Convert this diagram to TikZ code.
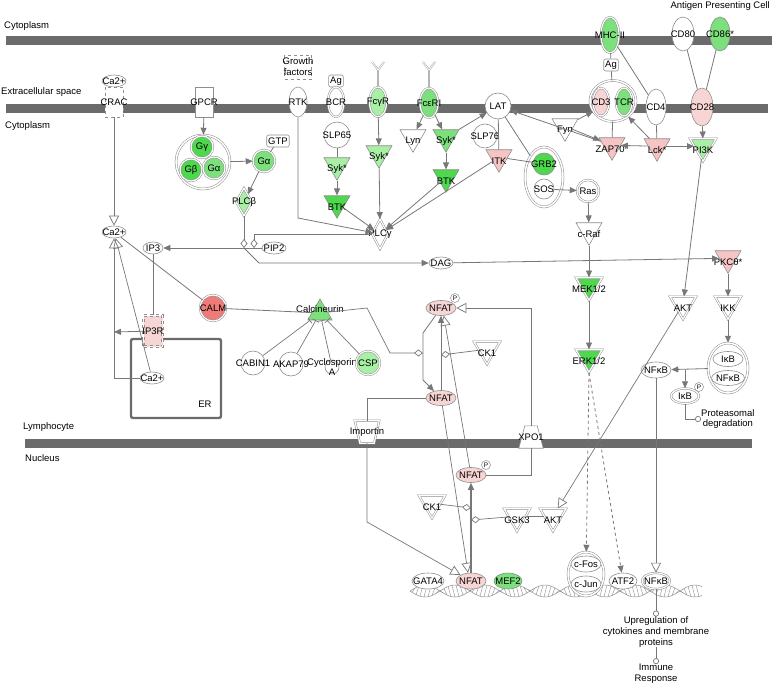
\documentclass[tikz,border=0pt]{standalone}
\usepackage{fontspec}
\setmainfont{Liberation Sans}
\usetikzlibrary{arrows.meta,shapes.geometric,calc,positioning}
\definecolor{MemGray}{HTML}{6B6B6B}
\definecolor{EdgeGray}{HTML}{777777}
\definecolor{RimGray}{HTML}{8E8E8E}
\definecolor{GreenHi}{HTML}{4ED84E}
\definecolor{GreenMid}{HTML}{7CE07C}
\definecolor{GreenLo}{HTML}{A9EFA6}
\definecolor{PinkLo}{HTML}{F8D5D5}
\definecolor{PinkMid}{HTML}{F6C4C4}
\definecolor{RedCalm}{HTML}{EE7B78}
\newcommand{\ipafont}{\fontsize{9.5}{10.8}\selectfont}

\begin{document}
\begin{tikzpicture}[x=1pt,y=-1pt,
    lab/.style={font=\ipafont,inner sep=0pt,align=center},
    mol/.style={ellipse,draw=RimGray,fill=white,line width=0.6pt,minimum width=30pt,
      minimum height=15pt,inner sep=0pt,label={[lab]center:#1}},
    ball/.style={circle,draw=RimGray,fill=white,line width=0.6pt,minimum size=24pt,
      inner sep=0pt,label={[lab]center:#1}},
    chem/.style={ellipse,draw=RimGray,fill=white,line width=0.6pt,minimum width=24pt,
      minimum height=12pt,inner sep=0pt,label={[lab]center:#1}},
    kin/.style={regular polygon,regular polygon sides=3,shape border rotate=180,
      minimum size=30pt,draw=RimGray,fill=white,line width=0.6pt,inner sep=0pt,
      yshift=3.75pt,label={[lab,yshift=-3.75pt]center:#1}},
    chan/.style={rectangle,draw=RimGray,fill=white,line width=0.6pt,minimum width=18pt,
      minimum height=30pt,inner sep=0pt,label={[lab]center:#1}},
    plc/.style={diamond,draw=RimGray,fill=white,double=white,double distance=1.2pt,
      line width=0.5pt,minimum width=16pt,minimum height=30pt,inner sep=0pt,
      label={[lab]center:#1}},
    gate/.style={rectangle,minimum width=24pt,minimum height=22pt,inner sep=0pt},
    gateline/.style={draw=RimGray,fill=white,line width=0.6pt},
    tag/.style={rectangle,rounded corners=2pt,draw=RimGray,fill=white,line width=0.6pt,
      minimum height=12pt,inner sep=1.5pt,font=\ipafont},
    cpx/.style={ellipse,draw=RimGray,fill=white,double=white,double distance=1.5pt,
      line width=0.5pt,inner sep=0pt},
    grp/.style={double=white,double distance=1.2pt,line width=0.5pt},
    phos/.style={circle,draw=RimGray,fill=white,line width=0.5pt,minimum size=9pt,
      inner sep=0pt,font=\fontsize{6.5}{7}\selectfont},
    link/.style={draw=EdgeGray,line width=0.8pt},
    act/.style={link,-{Triangle[length=7pt,width=6pt]}},
    indir/.style={act,dashed},
    trans/.style={draw=EdgeGray,line width=0.7pt,-{Triangle[open,length=10pt,width=10pt]}},
    cat/.style={draw=EdgeGray,line width=0.7pt,-{Diamond[open,length=9pt,width=7pt]}},
    inh/.style={draw=EdgeGray,line width=0.7pt,-{Bar[width=7pt]}},
    endo/.style={draw=EdgeGray,line width=0.7pt,-{Circle[open,length=6pt]}}
  ]
  \useasboundingbox (0,0) rectangle (778,687);

  \fill[MemGray] (6,36) rectangle (772,45);
  \fill[MemGray] (6,104) rectangle (768,113);
  \fill[MemGray] (25,439) rectangle (752,448);

  \node[lab,anchor=west] (cyto1) at (4,26) {Cytoplasm};
  \node[lab,anchor=east] (apc) at (770,6) {Antigen Presenting Cell};
  \node[lab,anchor=west] (extra) at (1,92) {Extracellular space};
  \node[lab,anchor=west] (cyto2) at (5,126) {Cytoplasm};
  \node[lab,anchor=west] (lympho) at (23,427) {Lymphocyte};
  \node[lab,anchor=west] (nucl) at (25,458) {Nucleus};

  \draw[MemGray,line width=2.4pt,rounded corners=2pt] (131,339) rectangle (221,418);
  \node[lab] (er) at (205,404) {ER};

  \draw[RimGray,line width=0.5pt,domain=410:702,samples=150]
    plot (\x,{591+6*sin((\x-410)*6)});
  \draw[RimGray,line width=0.5pt,domain=410:702,samples=150]
    plot (\x,{591-6*sin((\x-410)*6)});
  \foreach \x in {412,416,...,698}
    \draw[RimGray,line width=0.4pt] (\x,{591+6*sin((\x-410)*6)})
      -- ({\x+3},{591-6*sin((\x-407)*6)});

  \foreach \xx/\rc in {378/fcgr,429/fcer}{
    \draw[RimGray,line width=0.4pt,double=white,double distance=0.9pt]
      (\xx,87) -- (\xx,70) -- (\xx-6,62) (\xx,70) -- (\xx+6,62);
  }

  % membrane and receptors
  \node[chem=Ca2+] (ca0) at (114,81) {};
  \node[chan=CRAC,dashed] (crac) at (114,102) {};
  \node[chan=GPCR] (gpcr) at (204,102) {};
  \node[chan=Growth\\factors,dashed,minimum width=27pt,minimum height=24pt] (gf) at (298,67) {};
  \node[mol=RTK,minimum width=18pt,minimum height=30pt] (rtk) at (298,102) {};
  \node[tag] (ag1) at (336,81) {Ag};
  \node[mol=BCR,grp,minimum width=16pt,minimum height=30pt] (bcr) at (336,102) {};
  \node[mol=FcγR,grp,fill=GreenLo,minimum width=17pt,minimum height=30pt] (fcgr) at (378,102) {};
  \node[mol=FcεRI,grp,fill=GreenMid,minimum width=18pt,minimum height=30pt] (fcer) at (429,103) {};
  \node[ball=LAT,minimum size=26pt] (lat) at (498,106) {};
  \node[cpx,minimum width=46pt,minimum height=41pt] (tcrcx) at (613,101) {};
  \node[mol=CD3,grp,fill=PinkLo,minimum width=16pt,minimum height=28pt] (cd3) at (601,102) {};
  \node[mol=TCR,grp,fill=GreenMid,minimum width=16pt,minimum height=28pt] (tcr) at (624,102) {};
  \node[mol=MHC-II,grp,fill=GreenMid,minimum width=18pt,minimum height=36pt] (mhc) at (610,35) {};
  \node[tag] (ag2) at (611,65) {Ag};
  \node[mol=CD80,minimum width=22pt,minimum height=34pt] (cd80) at (683,34) {};
  \node[mol=CD86*,fill=GreenMid,minimum width=20pt,minimum height=34pt] (cd86) at (720,34) {};
  \node[mol=CD4,minimum width=20pt,minimum height=36pt] (cd4) at (656,107) {};
  \node[mol=CD28,fill=PinkLo,minimum width=22pt,minimum height=38pt] (cd28) at (702,107) {};

  % cytoplasm
  \node[ball=SLP65,minimum size=26pt] (slp65) at (337,135) {};
  \node[kin=Syk*,fill=GreenLo] (syk1) at (337,169) {};
  \node[kin=BTK,fill=GreenHi] (btk1) at (337,207) {};
  \node[kin=Syk*,fill=GreenLo] (syk2) at (379,157) {};
  \node[plc=PLCγ] (plcg) at (380,234) {};
  \node[kin=Lyn] (lyn) at (413,141) {};
  \node[kin=Syk*,fill=GreenMid] (syk3) at (446,141) {};
  \node[kin=BTK,fill=GreenHi] (btk2) at (446,181) {};
  \node[ball=SLP76] (slp76) at (485,136) {};
  \node[kin=ITK,fill=PinkMid] (itk) at (499,161) {};
  \node[cpx,minimum width=38pt,minimum height=60pt] (grbcx) at (544,177) {};
  \node[ball=GRB2,fill=GreenHi,minimum size=22pt] (grb2) at (544,164) {};
  \node[ball=SOS,minimum size=20pt] (sos) at (544,189) {};
  \node[ball=Ras,grp,minimum size=22pt] (ras) at (588,191) {};
  \node[kin=c-Raf] (craf) at (589,234) {};
  \node[kin=MEK1/2,grp,fill=GreenHi] (mek) at (589,289) {};
  \node[kin=ERK1/2,grp,fill=GreenHi] (erk) at (589,361) {};
  \node[kin=Fyn] (fyn) at (565,130) {};
  \node[kin=ZAP70*,fill=PinkMid] (zap70) at (612,149) {};
  \node[kin=Lck*,fill=PinkMid] (lck) at (657,150) {};
  \node[kin=PI3K,grp,fill=GreenLo] (pi3k) at (703,150) {};
  \node[kin=PKCθ*,fill=PinkMid] (pkc) at (728,262) {};
  \node[kin=AKT,grp] (akt1) at (683,308) {};
  \node[kin=IKK,grp] (ikk) at (728,308) {};
  \node[cpx,minimum width=40pt,minimum height=50pt] (ikbcx) at (728,368) {};
  \node[mol=IκB] (ikb1) at (728,359) {};
  \node[mol=NFκB,minimum width=33pt] (nfkb1) at (728,378) {};
  \node[mol=NFκB,minimum height=16pt] (nfkb2) at (656,370) {};
  \node[mol=IκB,grp,minimum width=28pt] (ikb2) at (685,396) {};
  \node[phos] (p1) at (699,387) {P};
  \node[lab,anchor=west] (prot) at (701,419) {Proteasomal\\degradation};

  \node[chem=Ca2+] (ca1) at (114,232) {};
  \node[chem=IP3,minimum width=20pt] (ip3) at (153,248) {};
  \node[chem=PIP2] (pip2) at (274,248) {};
  \node[chem=DAG] (dag) at (441,263) {};
  \node[cpx,minimum width=54pt,minimum height=54pt] (gcx) at (203,162) {};
  \node[ball=Gγ,grp,fill=GreenHi,minimum size=22pt] (gg) at (202,147) {};
  \node[ball=Gβ,grp,fill=GreenHi,minimum size=22pt] (gb) at (191,170) {};
  \node[ball=Gα,grp,fill=GreenMid,minimum size=22pt] (ga1) at (214,168) {};
  \node[ball=Gα,grp,fill=GreenMid,minimum size=22pt] (ga2) at (264,161) {};
  \node[tag] (gtp) at (278,141) {GTP};
  \node[plc=PLCβ,fill=GreenLo,minimum height=28pt] (plcb) at (244,202) {};
  \node[ball=CALM,grp,fill=RedCalm,minimum size=26pt] (calm) at (213,308) {};
  \node[regular polygon,regular polygon sides=3,minimum size=28pt,draw=RimGray,
    fill=GreenMid,line width=0.6pt,inner sep=0pt,
    label={[lab,yshift=4pt]center:Calcineurin}] (calc) at (320,313) {};
  \node[ball=CABIN1] (cabin) at (253,363) {};
  \node[ball=AKAP79] (akap) at (291,364) {};
  \node[ball=Cyclosporin\\A,minimum size=14pt] (cyc) at (332,367) {};
  \node[ball=CSP,grp,fill=GreenLo] (csp) at (368,363) {};
  \node[chan=IP3R,dashed,grp,fill=PinkLo,minimum width=19pt,minimum height=31pt] (ip3r) at (153,331) {};
  \node[chem=Ca2+] (ca2) at (152,378) {};

  \node[mol=NFAT,fill=PinkLo] (nfatp1) at (441,308) {};
  \node[phos] (p2) at (455,298) {P};
  \node[mol=NFAT,fill=PinkLo] (nfat2) at (441,398) {};
  \node[kin=CK1,grp] (ck1a) at (487,353) {};

  % nuclear envelope and nucleus
  \node[gate] (imp) at (367,432) {};
  \filldraw[gateline,grp] (imp.north west) -- (imp.north east)
    -- ([xshift=-5pt]imp.south east) -- ([xshift=5pt]imp.south west) -- cycle;
  \node[lab] (implab) at (imp) {Importin};
  \node[gate] (xpo) at (531,437) {};
  \filldraw[gateline] (xpo.south west) -- (xpo.south east)
    -- ([xshift=-6pt]xpo.north east) -- ([xshift=6pt]xpo.north west) -- cycle;
  \node[lab] (xpolab) at (xpo) {XPO1};
  \node[mol=NFAT,fill=PinkLo] (nfatp2) at (471,475) {};
  \node[phos] (p3) at (486,465) {P};
  \node[kin=CK1,grp] (ck1b) at (432,507) {};
  \node[kin=GSK3,grp] (gsk) at (517,520) {};
  \node[kin=AKT,grp] (akt2) at (553,520) {};
  \node[mol=GATA4,minimum width=32pt,minimum height=16pt] (gata) at (428,581) {};
  \node[mol=NFAT,fill=PinkLo,minimum height=16pt] (nfat3) at (471,581) {};
  \node[mol=MEF2,fill=GreenMid,minimum width=28pt,minimum height=16pt] (mef) at (508,581) {};
  \node[cpx,minimum width=36pt,minimum height=44pt] (fjcx) at (586,574) {};
  \node[mol=c-Fos,minimum height=16pt] (fos) at (586,564) {};
  \node[mol=c-Jun,minimum height=16pt] (jun) at (586,584) {};
  \node[mol=ATF2,minimum width=28pt,minimum height=16pt] (atf) at (623,581) {};
  \node[mol=NFκB,grp,minimum width=28pt,minimum height=16pt] (nfkb3) at (656,581) {};
  \node[lab] (upreg) at (656,632) {Upregulation of\\cytokines and membrane\\proteins};
  \node[lab] (immune) at (656,674) {Immune\\Response};

  \coordinate (cajn) at (114,378);
  \coordinate (ip3rj) at (114,332);
  \coordinate (rx1) at (244,248);
  \coordinate (rx2) at (254,248);
  \coordinate (rx3) at (259,263);
  \coordinate (rtkb) at (298,218);
  \coordinate (ikbj) at (685,370);
  \coordinate (ck1j) at (471,508);
  \coordinate (gskj) at (471,520);
  \coordinate (nl1) at (423,333);
  \coordinate (nl2) at (423,380);
  \coordinate (cnj) at (423,353);
  \coordinate (cn1) at (367,308);
  \coordinate (cn2) at (390,353);
  \coordinate (ck1aj) at (441,355);
  \coordinate (impj) at (367,522);

  \draw[link] (ca0) -- (crac);
  \draw[trans] (crac) -- (ca1);
  \draw[trans] (ca2) -- (cajn) -- (ca1);
  \draw[trans] (ca2) -- (ca1);
  \draw[act] (ip3r) -- (ip3rj);
  \draw[link] (ca1) -- (calm);
  \draw[link] (ip3) -- (ip3r);
  \draw[act] (pip2) -- (ip3);
  \draw[cat] (plcb) -- (rx1);
  \draw[cat] (plcg.west) -| (rx2);
  \draw[act] (rx1) -- (rx3) -- (dag);
  \draw[act] (dag) -- (pkc);
  \draw[act] (gpcr) -- (gcx);
  \draw[act] (gcx) -- (ga2);
  \draw[link] (gtp) -- (ga2);
  \draw[act] (ga2) -- (plcb);
  \draw[act] (rtk) -- (rtkb) -- (plcg);
  \draw[link] (slp65) -- (syk1);
  \draw[act] (syk1) -- (btk1);
  \draw[act] (btk1) -- (plcg);
  \draw[act] (fcgr) -- (syk2);
  \draw[act] (syk2) -- (plcg);
  \draw[act] (fcer) -- (lyn);
  \draw[act] (fcer) -- (syk3);
  \draw[act] (syk3) -- (btk2);
  \draw[act] (syk3) -- (lat);
  \draw[act] (btk2) -- (plcg);
  \draw[act] (itk) -- (plcg);
  \draw[link] (lat) -- (itk);
  \draw[link] (lat) -- (grbcx);
  \draw[link] (itk) -- (grb2);
  \draw[act] (sos) -- (ras);
  \draw[act] (ras) -- (craf);
  \draw[act] (craf) -- (mek);
  \draw[act] (mek) -- (erk);
  \draw[indir] (erk.south) -- (fjcx);
  \draw[indir] (erk.south) -- (atf);
  \draw[act] (zap70) -- (lat);
  \draw[act] (fyn) -- (zap70);
  \draw[act] (fyn) -- (tcrcx);
  \draw[link] (tcrcx) -- (zap70);
  \draw[link] (mhc) -- (ag2);
  \draw[link] (ag2) -- (tcrcx);
  \draw[link] (mhc) -- (cd4);
  \draw[link] (cd80) -- (cd28);
  \draw[link] (cd86) -- (cd28);
  \draw[link] (cd4) -- (lck);
  \draw[act] (lck) -- (tcrcx);
  \draw[act] (lck) -- (zap70);
  \draw[act] (lck) -- (pi3k);
  \draw[act] (cd28) -- (pi3k);
  \draw[act] (pi3k) -- (akt1);
  \draw[act] (pkc) -- (ikk);
  \draw[act] (ikk) -- (ikbcx);
  \draw[act] (ikbcx) -- (nfkb2);
  \draw[act] (ikbj) -- (ikb2);
  \draw[endo] (ikb2) |- (prot.west);
  \draw[trans] (nfkb2) -- (nfkb3);
  \draw[trans] (akt1) -- (akt2);
  \draw[link] (gsk) -- (akt2);
  \draw[cat] (ck1b) -- (ck1j);
  \draw[cat] (gsk) -- (gskj);
  \draw[act,line width=1.2pt] (nfat3) -- (nfatp2);
  \draw[link] (nfatp2) -| (xpo);
  \draw[trans] (xpo) |- (nfatp1);
  \draw[trans] (nfatp2.100) -- (nfatp1.-70);
  \draw[trans] (nfat2.-80) -- (nfat3.110);
  \draw[act] (nfat2) -- (nfatp1);
  \draw[act] (nfatp1) -- (nl1) -- (nl2) -- (nfat2);
  \draw[cat] (calc) -- (cn1) -- (cn2) -- (cnj);
  \draw[cat] (ck1a) -- (ck1aj);
  \draw[link] (calm) -- (calc);
  \draw[inh] (cabin) -- (calc);
  \draw[inh] (akap) -- (calc);
  \draw[inh] (cyc) -- (calc);
  \draw[inh] (csp) -- (calc);
  \draw[link] (nfat2) -| (imp);
  \draw[trans] (imp) -- (impj) -- (nfat3);
  \draw[endo] (nfkb3) -- (upreg.north);
  \draw[endo] (upreg) -- (immune.north);
\end{tikzpicture}
\end{document}
